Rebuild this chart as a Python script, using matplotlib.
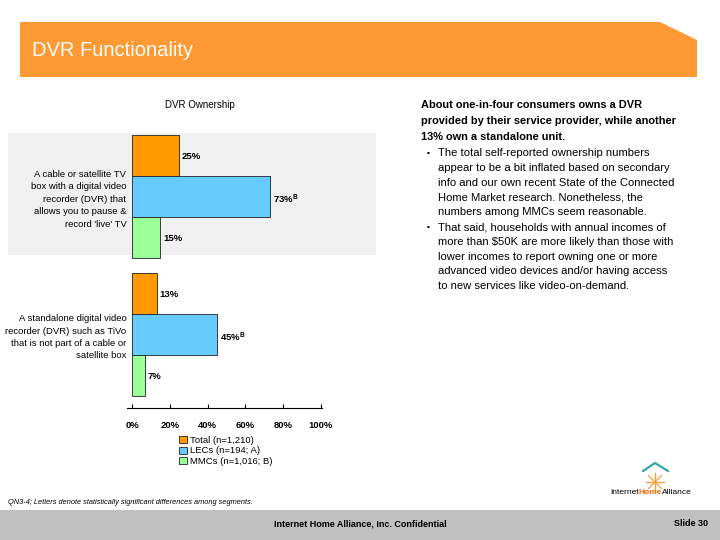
import numpy as np
import matplotlib.pyplot as plt
from matplotlib.patches import Rectangle, Polygon
from matplotlib.text import Annotation

plt.rcParams['font.family'] = ['Liberation Sans', 'DejaVu Sans']
plt.rcParams['mathtext.default'] = 'regular'

# data
categories = ["A cable or satellite TV\nbox with a digital video\nrecorder (DVR) that\nallows you to pause &\nrecord 'live' TV",
              "A standalone digital video\nrecorder (DVR) such as TiVo\nthat is not part of a cable or\nsatellite box"]
series = ["Total (n=1,210)", "LECs (n=194; A)", "MMCs (n=1,016; B)"]
total = [25, 13]
lecs = [73, 45]
mmcs = [15, 7]
sig_lecs = ["B", "B"]
ticks = [0, 20, 40, 60, 80, 100]

colors = ["#FF9900", "#66CCFF", "#99FF99"]

W, H = 720, 540
fig = plt.figure(figsize=(7.2, 5.4), dpi=100)

def fx(x):
    return x / W

def fy(y):
    return 1 - y / H

# orange title banner with cut corner
banner = Polygon([(fx(20), fy(22)), (fx(660), fy(22)), (fx(697), fy(40)),
                  (fx(697), fy(77)), (fx(20), fy(77))], closed=True,
                 transform=fig.transFigure, facecolor="#FF9933", edgecolor="none")
fig.patches.append(banner)
fig.text(fx(32), fy(50), "DVR Functionality", color="white", fontsize=14.5,
         va="center", ha="left")

# gray band behind first category
fig.patches.append(Rectangle((fx(8), fy(255)), fx(368), (255 - 133) / H,
                             transform=fig.transFigure, facecolor="#F0F0F0",
                             edgecolor="none", zorder=-1))

# chart
top, bottom = 118, 408
ax = fig.add_axes([fx(132), fy(bottom), fx(321 - 132), (bottom - top) / H])
ax.set_zorder(2)
ax.patch.set_alpha(0)
ax.set_xlim(0, 100)
ax.set_ylim(bottom - top, 0)

group_tops = [17, 155]
bh = 41
for j, (vals, col) in enumerate(zip([total, lecs, mmcs], colors)):
    ys = [g + bh / 2 + j * bh for g in group_tops]
    ax.barh(ys, vals, height=bh, color=col, edgecolor="#222222", linewidth=0.6,
            label=series[j])
    for i, (y, v) in enumerate(zip(ys, vals)):
        lab = f"{v}%"
        if j == 1:
            lab = f"{v}%$^{{{sig_lecs[i]}}}$"
        ax.text(v + 1.5, y + (1 if j != 1 else 3), lab, fontsize=6.8,
                fontweight="bold", va="center", ha="left")

ax.set_yticks([g + bh * 1.5 for g in group_tops])
ax.set_yticklabels(categories, fontsize=6.8, linespacing=1.5)
ax.tick_params(axis="y", length=0, pad=4)
ax.set_xticks(ticks)
ax.set_xticklabels([f"{t}%" for t in ticks], fontsize=6.8, fontweight="bold")
ax.tick_params(axis="x", direction="in", length=3, width=0.8, pad=9)
for s in ["top", "right", "left"]:
    ax.spines[s].set_visible(False)
ax.spines["bottom"].set_linewidth(0.8)
ax.spines["bottom"].set_bounds(-2.5, 100.5)

ax.legend(loc="upper left", bbox_to_anchor=(fx(179), fy(436)),
          bbox_transform=fig.transFigure, fontsize=6.8, frameon=False,
          handlelength=0.8, handleheight=0.8, labelspacing=0.15,
          handletextpad=0.4, borderaxespad=0, borderpad=0)

fig.text(fx(200), fy(105), "DVR Ownership", fontsize=7, ha="center", va="center")

# commentary on the right
head = ["About one-in-four consumers owns a DVR",
        "provided by their service provider, while another",
        "13% own a standalone unit."]
for k, line in enumerate(head):
    fig.text(fx(421), fy(105 + k * 16), line, fontsize=7.9, fontweight="bold",
             va="center", ha="left")

bullets = [["The total self-reported ownership numbers",
            "appear to be a bit inflated based on secondary",
            "info and our own recent State of the Connected",
            "Home Market research. Nonetheless, the",
            "numbers among MMCs seem reasonable."],
           ["That said, households with annual incomes of",
            "more than $50K are more likely than those with",
            "lower incomes to report owning one or more",
            "advanced video devices and/or having access",
            "to new services like video-on-demand."]]
y0 = 153
for b in bullets:
    fig.text(fx(427), fy(y0), "\u25aa", fontsize=6, va="center", ha="left")
    for line in b:
        fig.text(fx(438), fy(y0), line, fontsize=8.1, va="center", ha="left")
        y0 += 14.8

# footnote and footer
fig.text(fx(8), fy(502), "QN3-4; Letters denote statistically significant differences among segments.",
         fontsize=5.3, style="italic", va="center", ha="left")
fig.patches.append(Rectangle((0, 0), 1, 30 / H, transform=fig.transFigure,
                             facecolor="#C0C0C0", edgecolor="none"))
fig.text(0.5, fy(524), "Internet Home Alliance, Inc. Confidential", fontsize=6.5,
         fontweight="bold", ha="center", va="center")
fig.text(fx(708), fy(524), "Slide 30", fontsize=6.5, fontweight="bold",
         ha="right", va="center")

# logo
fig.lines.append(plt.Line2D([fx(643), fx(655), fx(668)], [fy(471), fy(463), fy(471)],
                            transform=fig.transFigure, color="#2E9FA8", lw=1.5))
for a in np.linspace(0, np.pi, 4, endpoint=False):
    dx, dy = 9 * np.cos(a), 9 * np.sin(a)
    fig.lines.append(plt.Line2D([fx(655 - dx), fx(655 + dx)], [fy(482 - dy), fy(482 + dy)],
                                transform=fig.transFigure, color="#FF9933", lw=0.9))
t1 = fig.text(fx(610), fy(494), "Internet", fontsize=6, ha="left", va="baseline")
t2 = Annotation("Home", xy=(1, 0), xycoords=t1, ha="left", va="bottom",
                fontsize=6, color="#FF6600", fontweight="bold")
fig.add_artist(t2)
t3 = Annotation("Alliance", xy=(1, 0), xycoords=t2, ha="left", va="bottom",
                fontsize=6)
fig.add_artist(t3)

fig.savefig("out.png", dpi=100)
